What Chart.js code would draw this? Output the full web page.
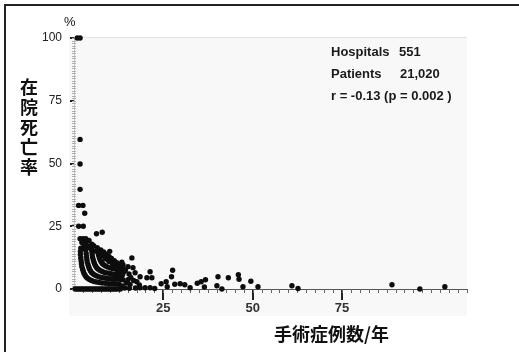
<!DOCTYPE html>
<html>
<head>
<meta charset="utf-8">
<script src="https://cdn.jsdelivr.net/npm/chart.js@4/dist/chart.umd.min.js"></script>
<style>
  html, body { margin: 0; padding: 0; background: #fff; overflow: hidden; }
  #wrap { position: relative; width: 519px; height: 352px; overflow: hidden; }
  canvas { position: absolute; left: 0; top: 0; }
  .t { position: absolute; white-space: nowrap; color: #111; }
  .note { font: bold 13px "Liberation Sans", Arial, sans-serif; line-height: 15px; color: #1a1a1a; }
  .cjk { font-family: "Noto Sans CJK JP", "Noto Sans CJK SC", sans-serif; font-weight: bold; }
</style>
</head>
<body>
<div id="wrap">
  <canvas id="c" width="519" height="352"></canvas>
  <div class="t" style="left:64px;top:14px;font:13px 'Liberation Sans',Arial,sans-serif;line-height:16px;">%</div>
  <div class="t cjk" style="left:20px;top:76px;font-size:18px;line-height:20px;width:20px;white-space:normal;">在<br>院<br>死<br>亡<br>率</div>
  <div class="t cjk" style="left:274px;top:323px;font-size:18px;line-height:20px;">手術症例数/年</div>
  <div class="t note" style="left:331px;top:44px;">Hospitals</div>
  <div class="t note" style="left:399px;top:44px;">551</div>
  <div class="t note" style="left:331px;top:66px;">Patients</div>
  <div class="t note" style="left:400px;top:66px;">21,020</div>
  <div class="t note" style="left:331px;top:88px;">r = -0.13 (p = 0.002 )</div>
</div>
<script>
// Annual surgical volume (cases/year) and in-hospital mortality (%) per hospital

// isolated high-mortality hospitals near the origin
const upperX = [0.9, 1.7, 1.7, 1.7, 1.7, 1.3, 2.5, 3.0, 1.3, 2.6, 6.3, 7.9];
const upperY = [100, 100, 59.6, 49.8, 39.7, 33.3, 33.3, 30.2, 25, 25, 22.0, 22.6];

// upper edge of the dense cloud
const cloudX = [1.7, 2.5, 3.3, 2.2, 3.2, 4.2, 2.8, 4.0, 5.0, 5.5, 6.5, 7.5, 8.3, 9.0, 9.8, 10.0,
                10.5, 11.3, 12.0, 12.8, 13.5, 8.8, 9.8, 10.7, 11.6, 12.4, 13.4, 12.2, 13.2, 11.5,
                1.9, 3.0, 4.6, 6.0, 7.0, 7.9, 8.7, 9.5, 10.4, 11.2, 12.0, 13.0, 14.0];
const cloudY = [20, 20, 20, 18.5, 18.3, 19.3, 17, 17.2, 17.8, 17.3, 16.5, 15.6, 14.8, 13.9, 13.0, 15.0,
                12.2, 11.3, 10.5, 9.8, 9.0, 12.0, 11.0, 10.2, 9.5, 9.0, 10.7, 6.6, 5.2, 4.8,
                16.3, 16.0, 16.2, 15.2, 14.2, 13.4, 12.6, 11.8, 11.0, 10.2, 8.2, 7.5, 6.9];

// bands of small hospitals (few deaths over few cases)
const bandAX = [1.8, 1.8, 1.9, 2.0, 2.1, 2.2, 2.4, 2.6, 2.8, 3.1, 3.4, 3.8, 4.3, 4.9, 5.6, 6.3, 7.1, 7.9, 8.8, 9.7, 10.6, 11.6, 12.6];
const bandAY = [15, 13.7, 12.4, 11.2, 10.1, 9.0, 8.0, 7.1, 6.3, 5.5, 4.8, 4.3, 3.8, 3.4, 3.0, 2.8, 2.6, 2.4, 2.3, 2.1, 2.1, 2.0, 1.9];
const bandBX = [3.3, 3.4, 3.5, 3.6, 3.7, 3.9, 4.1, 4.3, 4.6, 4.9, 5.3, 5.8, 6.4, 7.1, 7.8, 8.6, 9.4, 10.3, 11.2, 12.1, 13.1];
const bandBY = [15.5, 14.2, 13.0, 11.9, 10.8, 9.8, 8.9, 8.1, 7.3, 6.6, 6.1, 5.6, 5.2, 4.8, 4.6, 4.4, 4.2, 4.1, 3.9, 3.9, 3.8];
const bandCX = [4.9, 5.0, 5.1, 5.2, 5.4, 5.6, 5.8, 6.1, 6.4, 6.8, 7.3, 7.9, 8.6, 9.3, 10.1, 10.9, 11.8, 12.7, 13.6];
const bandCY = [16.0, 14.8, 13.7, 12.6, 11.6, 10.7, 9.9, 9.1, 8.4, 7.9, 7.4, 7.0, 6.6, 6.4, 6.2, 6.0, 5.9, 5.7, 5.7];
const bandDX = [6.6, 6.7, 6.9, 7.1, 7.3, 7.6, 7.9, 8.3, 8.8, 9.4, 10.1, 10.8, 11.6, 12.4, 13.3, 14.2];
const bandDY = [15.5, 14.4, 13.4, 12.5, 11.7, 10.9, 10.2, 9.7, 9.2, 8.8, 8.4, 8.2, 8.0, 7.8, 7.7, 7.5];

// hospitals with no in-hospital deaths
const zeroX = [0.3, 0.8, 1.3, 1.8, 2.3, 2.8, 3.3, 3.8, 4.3, 4.8, 5.3, 5.8, 6.3, 6.8, 7.3, 7.8,
               8.3, 8.8, 9.3, 9.8, 10.3, 10.8, 11.3, 11.8, 12.4, 13.0, 41.4, 96.8];

// larger-volume hospitals
const sparseX = [13.7, 15.1, 16.5, 16.2, 17.1, 14.4, 15.4, 15.9, 16.7, 18.5, 20.4, 21.8, 21.3, 13.7, 15.1,
                 17.6, 14.6, 15.7, 13.4, 18.3, 18.5, 19.9, 21.3, 22.6, 17.2, 15.5, 14.2, 24.4, 25.8, 26.1,
                 27.6, 27.3, 28.2, 29.7, 31.0, 32.5, 34.5, 35.6, 36.8, 36.5, 40.3, 40.0, 43.2, 46.0, 46.2,
                 47.3, 49.5, 51.5, 61.0, 62.7, 89.0, 103.8];
const sparseY = [9.7, 8.9, 8.5, 12.4, 6.5, 7.6, 6.0, 4.6, 3.4, 4.9, 4.5, 4.5, 6.9, 3.7, 3.7,
                 2.9, 2.4, 1.8, 1.2, 1.6, 0.5, 0.5, 0.5, 0.2, 0.4, 0.3, 0.4, 2.1, 2.9, 0.9,
                 7.5, 4.9, 1.9, 2.1, 1.7, 0.5, 2.3, 2.9, 3.7, 0.8, 4.9, 1.3, 4.5, 5.7, 3.9,
                 0.9, 3.1, 0.9, 1.3, 0.2, 1.7, 0.9];

const xTickValues = [25, 50, 75];
const yTickValues = [0, 25, 50, 75, 100];

function pairs(xs, ys) { return xs.map((x, i) => ({ x: x, y: ys[i] })); }

const hospitals = [].concat(
  pairs(upperX, upperY),
  pairs(cloudX, cloudY),
  pairs(bandAX, bandAY), pairs(bandBX, bandBY), pairs(bandCX, bandCY), pairs(bandDX, bandDY),
  zeroX.map(x => ({ x: x, y: 0 })),
  pairs(sparseX, sparseY)
);

// outer frame, light plot panel behind the axes, and the fine minor tick marks
const panelAndMinorTicks = {
  id: 'panelAndMinorTicks',
  beforeDraw(chart) {
    const { ctx, chartArea: a } = chart;
    ctx.save();
    ctx.strokeStyle = '#222';
    ctx.lineWidth = 2;
    ctx.beginPath();
    ctx.moveTo(5, chart.height);
    ctx.lineTo(5, 5);
    ctx.lineTo(chart.width, 5);
    ctx.stroke();
    ctx.fillStyle = '#f8f8f8';
    ctx.fillRect(a.left - 5, a.top - 1, a.right - a.left + 5, a.bottom - a.top + 28);
    ctx.strokeStyle = '#e2e2e2';
    ctx.lineWidth = 1;
    ctx.beginPath();
    ctx.moveTo(a.left - 5, a.top - 0.5);
    ctx.lineTo(a.right, a.top - 0.5);
    ctx.stroke();
    ctx.restore();
  },
  beforeDatasetsDraw(chart) {
    const { ctx, scales: { x, y } } = chart;
    ctx.save();
    ctx.lineWidth = 1;
    ctx.strokeStyle = '#b0b0b0';
    ctx.beginPath();
    for (let v = 0; v <= 100; v += 1) {
      const py = Math.round(y.getPixelForValue(v)) + 0.5;
      ctx.moveTo(x.left - 2, py);
      ctx.lineTo(x.left + 2, py);
    }
    ctx.stroke();
    ctx.strokeStyle = '#666';
    ctx.beginPath();
    for (let v = 2.5; v <= 110; v += 2.5) {
      const px = Math.round(x.getPixelForValue(v)) + 0.5;
      ctx.moveTo(px, y.bottom);
      ctx.lineTo(px, y.bottom + 4);
    }
    ctx.stroke();
    ctx.restore();
  }
};

new Chart(document.getElementById('c'), {
  type: 'scatter',
  data: {
    datasets: [{
      data: hospitals,
      pointRadius: 2.7,
      pointBorderWidth: 0,
      backgroundColor: '#0d0d0d',
      clip: false
    }]
  },
  options: {
    responsive: false,
    animation: false,
    events: [],
    layout: { padding: { left: 40, right: 52, top: 38, bottom: 33 } },
    plugins: { legend: { display: false }, tooltip: { enabled: false } },
    scales: {
      x: {
        type: 'linear', min: 0, max: 110,
        afterBuildTicks(s) { s.ticks = xTickValues.map(v => ({ value: v })); },
        afterFit(s) { s.height = 30; },
        border: { color: '#555', width: 1 },
        grid: { drawOnChartArea: false, drawTicks: true, tickLength: 11, color: '#222', lineWidth: 2 },
        ticks: { color: '#333', padding: 1, maxRotation: 0,
                 font: { family: 'Liberation Sans', size: 13, weight: 'bold' } }
      },
      y: {
        type: 'linear', min: 0, max: 100,
        afterBuildTicks(s) { s.ticks = yTickValues.map(v => ({ value: v })); },
        afterFit(s) { s.width = 34; },
        border: { color: '#c8c8c8', width: 1 },
        grid: { drawOnChartArea: false, drawTicks: true, tickLength: 4, color: '#222', lineWidth: 2 },
        ticks: { color: '#222', padding: 8,
                 font: { family: 'Liberation Sans', size: 12 } }
      }
    }
  },
  plugins: [panelAndMinorTicks]
});
</script>
</body>
</html>
